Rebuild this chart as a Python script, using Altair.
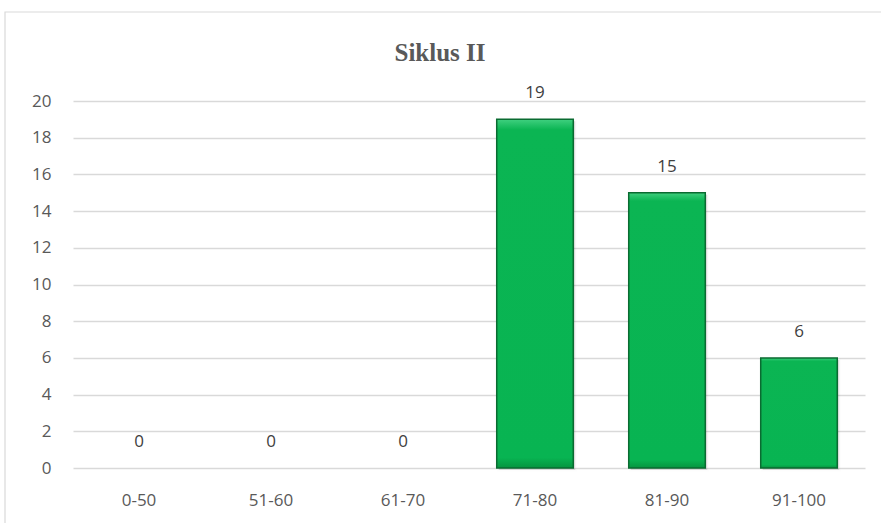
import altair as alt
import pandas as pd

categories = ["0-50", "51-60", "61-70", "71-80", "81-90", "91-100"]
counts = [0, 0, 0, 19, 15, 6]
y_ticks = [0, 2, 4, 6, 8, 10, 12, 14, 16, 18, 20]
title_text = "Siklus II"

df = pd.DataFrame({"cat": categories, "n": counts})

W, H = 792, 367
FONT = "Open Sans"
FS = 17

xenc = alt.X("cat:N", sort=categories, title=None,
             scale=alt.Scale(paddingInner=0.42, paddingOuter=0.21),
             axis=alt.Axis(labelAngle=0, labelFont=FONT, labelFontSize=FS,
                           labelColor="#595959", labelPadding=24, ticks=False,
                           domain=False, grid=False))
yenc = alt.Y("n:Q", title=None,
             scale=alt.Scale(domain=[0, 20], nice=False),
             axis=alt.Axis(values=y_ticks, labelFont=FONT, labelFontSize=FS,
                           labelColor="#595959", labelPadding=22, ticks=False,
                           domain=False, gridColor="#d9d9d9", gridWidth=1.3))

base = alt.Chart(df).encode(x=xenc, y=yenc)
nonzero = base.transform_filter(alt.datum.n > 0)

shadow = nonzero.mark_bar(color="#000000", opacity=0.12, xOffset=2, yOffset=2,
                          stroke="#000000", strokeOpacity=0.06, strokeWidth=3)

bars = nonzero.mark_bar(
    fill=alt.Gradient(gradient="linear", x1=0, x2=0, y1=0, y2=1,
                      stops=[alt.GradientStop(color="#3fd07f", offset=0),
                             alt.GradientStop(color="#0bb553", offset=0.03),
                             alt.GradientStop(color="#08b452", offset=0.97),
                             alt.GradientStop(color="#06943f", offset=1)]),
    stroke="#0a6b31", strokeWidth=1.5)

labels = base.mark_text(baseline="middle", dy=-26, font=FONT, fontSize=FS,
                        color="#404040").encode(text="n:Q")

border = alt.Chart(pd.DataFrame({"a": [0]})).mark_rect(
    fill=None, stroke="#d9d9d9", strokeWidth=1.2).encode(
    x=alt.value(-68), x2=alt.value(W + 40),
    y=alt.value(-89), y2=alt.value(H + 80))

title = alt.Chart(pd.DataFrame({"t": [title_text]})).mark_text(
    font="Liberation Serif", fontSize=25, fontWeight="bold", color="#595959",
    align="center", baseline="middle").encode(
    text="t:N", x=alt.value(367), y=alt.value(-48))

chart = alt.layer(border, shadow, bars, labels, title).properties(
    width=W, height=H,
    padding={"left": 73, "top": 101, "right": 16, "bottom": 55},
    autosize=alt.AutoSizeParams(type="none"),
).configure(background="white").configure_view(strokeWidth=0, stroke="transparent")

chart.save("out.html", embed_options={"renderer": "svg", "actions": False})
